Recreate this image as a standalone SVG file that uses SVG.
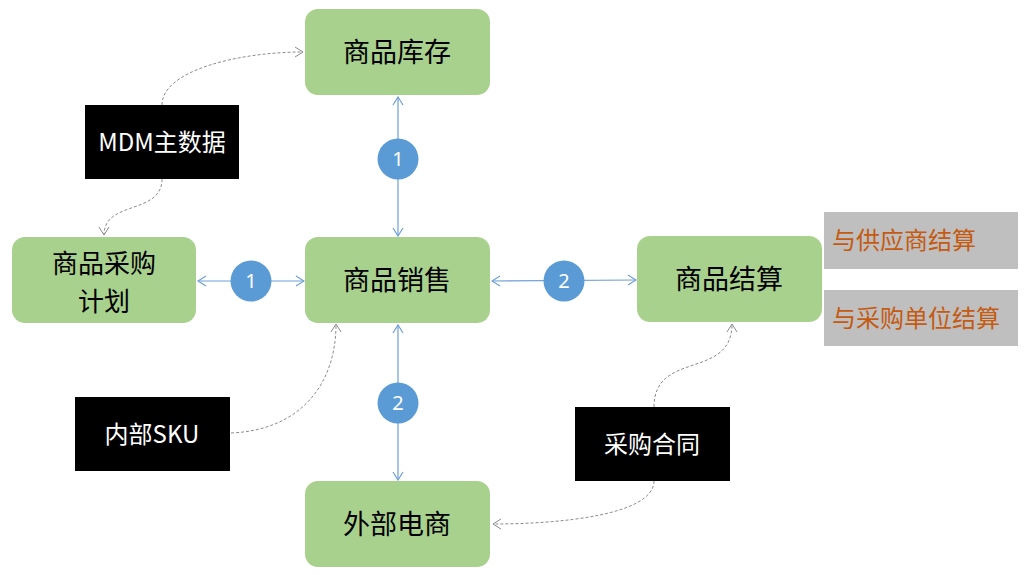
<svg xmlns="http://www.w3.org/2000/svg" width="1031" height="575" viewBox="0 0 1031 575">
<style>
.g{fill:#a9d18e}
.b{fill:#000}
.gy{fill:#bfbfbf}
.gt{font-family:"Noto Sans CJK SC","Noto Sans",sans-serif;font-size:27px;fill:#000;text-anchor:middle;dominant-baseline:central}
.wt{font-family:"Noto Sans CJK SC","Noto Sans",sans-serif;font-size:24px;fill:#fff;text-anchor:middle;dominant-baseline:central}
.ot{font-family:"Noto Sans CJK SC","Noto Sans",sans-serif;font-size:24px;fill:#c55a11;dominant-baseline:central}
.ct{font-family:"Noto Sans",sans-serif;font-size:20px;fill:#fff;text-anchor:middle;dominant-baseline:central}
.c{fill:#5b9bd5}
.bl{stroke:#6f9fd6;stroke-width:1.2;fill:none;marker-start:url(#ab);marker-end:url(#ab)}
.dl{stroke:#8c8c8c;stroke-width:1;stroke-dasharray:3 2;fill:none;marker-end:url(#ag)}
</style>
<defs>
<marker id="ab" viewBox="0 0 10 12" refX="9" refY="6" markerWidth="10" markerHeight="12" markerUnits="userSpaceOnUse" orient="auto-start-reverse">
<path d="M1,1 L9,6 L1,11" fill="none" stroke="#6f9fd6" stroke-width="1.2"/>
</marker>
<marker id="ag" viewBox="0 0 10 12" refX="9" refY="6" markerWidth="10" markerHeight="12" markerUnits="userSpaceOnUse" orient="auto">
<path d="M1,1 L9,6 L1,11" fill="none" stroke="#8c8c8c" stroke-width="1"/>
</marker>
</defs>
<rect width="1031" height="575" fill="#fff"/>
<g id="connectors">
<line class="bl" x1="398" y1="97" x2="398" y2="236"/>
<line class="bl" x1="198" y1="281" x2="304" y2="281"/>
<line class="bl" x1="492" y1="281" x2="636" y2="280"/>
<line class="bl" x1="398" y1="325" x2="398" y2="480"/>
<path class="dl" d="M162,105 C162,70 240,52 303,52"/>
<path class="dl" d="M162,179 C162,215 104,200 104,235"/>
<path class="dl" d="M231,433 C300,430 336,385 336,324"/>
<path class="dl" d="M654,407 C654,350 732,380 732,324"/>
<path class="dl" d="M654,481 C654,515 560,524 493,524"/>
</g>
<g id="badge-1a"><circle class="c" cx="398" cy="159" r="20.5"/><text class="ct" x="398" y="158">1</text></g>
<g id="badge-1b"><circle class="c" cx="251" cy="281" r="20.5"/><text class="ct" x="251" y="280">1</text></g>
<g id="badge-2a"><circle class="c" cx="564" cy="281" r="20.5"/><text class="ct" x="564" y="280">2</text></g>
<g id="badge-2b"><circle class="c" cx="398" cy="403" r="20.5"/><text class="ct" x="398" y="402">2</text></g>
<g id="inventory"><rect class="g" x="305" y="9" width="185" height="86" rx="13"/><text class="gt" x="397" y="50">商品库存</text></g>
<g id="sales"><rect class="g" x="305" y="237" width="185" height="86" rx="13"/><text class="gt" x="397" y="278">商品销售</text></g>
<g id="purchase-plan"><rect class="g" x="12" y="237" width="184" height="86" rx="13"/><text class="gt" x="104" y="261.5" style="font-size:26px">商品采购</text><text class="gt" x="104" y="299.5" style="font-size:26px">计划</text></g>
<g id="settlement"><rect class="g" x="637" y="236" width="185" height="86" rx="13"/><text class="gt" x="729" y="277">商品结算</text></g>
<g id="ecommerce"><rect class="g" x="305" y="481" width="185" height="86" rx="13"/><text class="gt" x="397" y="522">外部电商</text></g>
<g id="mdm"><rect class="b" x="85" y="105" width="154" height="74"/><text class="wt" x="162" y="140">MDM主数据</text></g>
<g id="sku"><rect class="b" x="75" y="397" width="155" height="74"/><text class="wt" x="152" y="432">内部SKU</text></g>
<g id="contract"><rect class="b" x="575" y="407" width="155" height="74"/><text class="wt" x="652" y="442">采购合同</text></g>
<g id="settle-supplier"><rect class="gy" x="824" y="212" width="194" height="57"/><text class="ot" x="832" y="238">与供应商结算</text></g>
<g id="settle-buyer"><rect class="gy" x="824" y="290" width="194" height="56"/><text class="ot" x="832" y="316">与采购单位结算</text></g>
</svg>
